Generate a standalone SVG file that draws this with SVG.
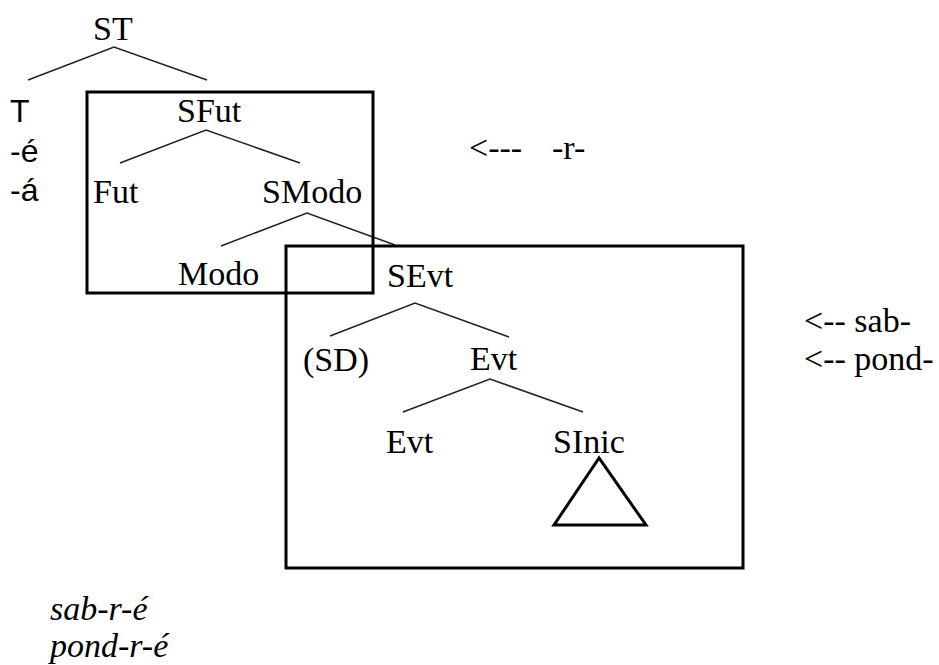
<svg xmlns="http://www.w3.org/2000/svg" width="939" height="665" viewBox="0 0 939 665">
<style>
.t{font-family:"Liberation Serif","Times New Roman",serif;font-size:34px;fill:#000}
.s{font-family:"Liberation Sans",Arial,sans-serif;font-size:32px;fill:#000}
.i{font-family:"Liberation Serif","Times New Roman",serif;font-size:34px;font-style:italic;fill:#000}
.e{fill:none;stroke:#222;stroke-width:1.5}
.b{fill:none;stroke:#000;stroke-width:3}
</style>
<rect width="939" height="665" fill="#fff"/>
<g id="connectors">
<polyline class="e" points="28,80 114,47 207,80"/>
<polyline class="e" points="120,163 206,130 300,163"/>
<polyline class="e" points="221,246 307,213 395,245"/>
<polyline class="e" points="330,336 415,303 509,337"/>
<polyline class="e" points="403,412 490,379 583,412"/>
</g>
<g id="boxes">
<rect class="b" x="87" y="92" width="286" height="201"/>
<rect class="b" x="286" y="246" width="457" height="322"/>
</g>
<g id="ST"><text class="t" x="93" y="40">ST</text></g>
<g id="T"><text class="s" x="10" y="122">T</text><text class="s" x="10" y="162">-é</text><text class="s" x="10" y="201">-á</text></g>
<g id="SFut"><text class="t" x="177" y="122">SFut</text></g>
<g id="Fut"><text class="t" x="93" y="203">Fut</text></g>
<g id="SModo"><text class="t" x="262" y="203">SModo</text></g>
<g id="Modo"><text class="t" x="178" y="285">Modo</text></g>
<g id="SEvt"><text class="t" x="387" y="287">SEvt</text></g>
<g id="SD"><text class="t" x="303" y="371">(SD)</text></g>
<g id="Evt1"><text class="t" x="470" y="370">Evt</text></g>
<g id="Evt2"><text class="t" x="386" y="453">Evt</text></g>
<g id="SInic"><text class="t" x="553" y="453">SInic</text>
<polygon class="b" points="599,458 554,525 646,525"/></g>
<g id="labels">
<text class="t" x="469" y="159">&lt;---</text>
<text class="t" x="552" y="159">-r-</text>
<text class="t" x="804" y="332">&lt;-- sab-</text>
<text class="t" x="804" y="370">&lt;-- pond-</text>
<text class="i" x="50" y="620">sab-r-é</text>
<text class="i" x="50" y="657">pond-r-é</text>
</g>
</svg>
